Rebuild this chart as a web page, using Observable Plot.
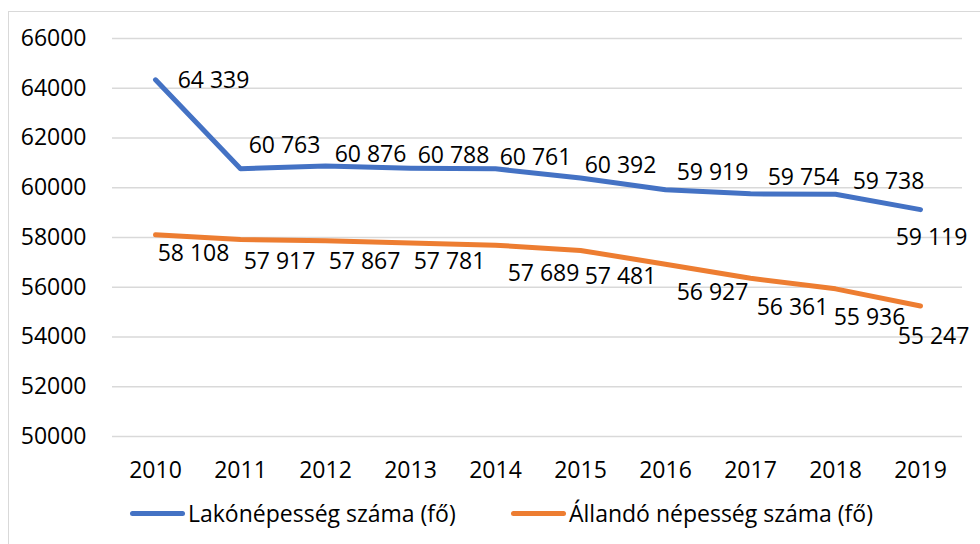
<!DOCTYPE html>
<html>
<head>
<meta charset="utf-8">
<script src="https://cdn.jsdelivr.net/npm/d3@7"></script>
<script src="https://cdn.jsdelivr.net/npm/@observablehq/plot@0.6"></script>
<style>
  html, body { margin: 0; padding: 0; background: #fff; }
  #wrap { position: relative; width: 980px; height: 544px; overflow: hidden; font-family: "Open Sans", sans-serif; }
  #frame { position: absolute; left: 8px; top: 11px; width: 1000px; height: 600px; border-top: 1px solid #d9d9d9; border-left: 1px solid #d9d9d9; }
  #chart { position: absolute; left: 0; top: 0; }
  #legend { position: absolute; left: 0; top: 496px; width: 980px; height: 34px; font-size: 23px; color: #000; }
  .item { position: absolute; top: 0; display: flex; align-items: center; height: 34px; white-space: nowrap; }
  .sw { width: 55px; height: 5px; border-radius: 3px; margin-right: 3px; }
</style>
</head>
<body>
<div id="wrap">
  <div id="frame"></div>
  <div id="chart"></div>
  <div id="legend"></div>
</div>
<script>
const years = ["2010","2011","2012","2013","2014","2015","2016","2017","2018","2019"];
const lakonepesseg = [64339, 60763, 60876, 60788, 60761, 60392, 59919, 59754, 59738, 59119];
const allando = [58108, 57917, 57867, 57781, 57689, 57481, 56927, 56361, 55936, 55247];
const seriesNames = ["Lakónépesség száma (fő)", "Állandó népesség száma (fő)"];
const seriesColors = ["#4472C4", "#ED7D31"];
const yTicks = [50000, 52000, 54000, 56000, 58000, 60000, 62000, 64000, 66000];

// label offsets (pixels) relative to each point, as placed in the reference
const blueLabelDx = [58, 44, 45, 43, 40, 40, 47, 53, 53, 11];
const blueLabelDy = [1, -23, -11, -13, -11, -12, -17, -16, -13, 28];
const orangeLabelDx = [38, 39, 39, 39, 48, 40, 47, 42, 34, 13];
const orangeLabelDy = [19, 22, 21, 19, 28, 26, 28, 29, 29, 31];

const fmt = v => Math.floor(v / 1000) + " " + String(v % 1000).padStart(3, "0");

const blue = years.map((y, i) => ({year: y, value: lakonepesseg[i], s: seriesNames[0]}));
const orange = years.map((y, i) => ({year: y, value: allando[i], s: seriesNames[1]}));

const labelMarks = [];
blue.forEach((d, i) => labelMarks.push(Plot.text([d], {x: "year", y: "value", text: d => fmt(d.value), dx: blueLabelDx[i], dy: blueLabelDy[i], fill: "#000", fontSize: 23})));
orange.forEach((d, i) => labelMarks.push(Plot.text([d], {x: "year", y: "value", text: d => fmt(d.value), dx: orangeLabelDx[i], dy: orangeLabelDy[i], fill: "#000", fontSize: 23})));

const chart = Plot.plot({
  width: 980,
  height: 490,
  marginLeft: 112,
  marginRight: 18,
  marginTop: 38,
  marginBottom: 54,
  style: {fontFamily: "'Open Sans', sans-serif", fontSize: "23px", color: "#000", background: "transparent", overflow: "visible"},
  x: {type: "point", domain: years, padding: 0.5, label: null},
  y: {domain: [50000, 66000], ticks: yTicks, label: null},
  marks: [
    Plot.gridY(yTicks, {stroke: "#d9d9d9", strokeOpacity: 1, strokeWidth: 1.5}),
    Plot.axisY(yTicks, {tickSize: 0, tickPadding: 26, tickFormat: d => String(d), fontSize: 23, label: null}),
    Plot.axisX(years, {tickSize: 0, tickPadding: 25, fontSize: 23, label: null}),
    Plot.line(blue, {x: "year", y: "value", stroke: seriesColors[0], strokeWidth: 5, strokeLinecap: "round", strokeLinejoin: "round"}),
    Plot.line(orange, {x: "year", y: "value", stroke: seriesColors[1], strokeWidth: 5, strokeLinecap: "round", strokeLinejoin: "round"}),
    ...labelMarks
  ]
});
document.getElementById("chart").appendChild(chart);

const legend = document.getElementById("legend");
const legendLeft = [130, 511];
seriesNames.forEach((n, i) => {
  const it = document.createElement("div");
  it.className = "item";
  it.style.left = legendLeft[i] + "px";
  const sw = document.createElement("div");
  sw.className = "sw";
  sw.style.background = seriesColors[i];
  const t = document.createElement("span");
  t.textContent = n;
  it.appendChild(sw);
  it.appendChild(t);
  legend.appendChild(it);
});
</script>
</body>
</html>
